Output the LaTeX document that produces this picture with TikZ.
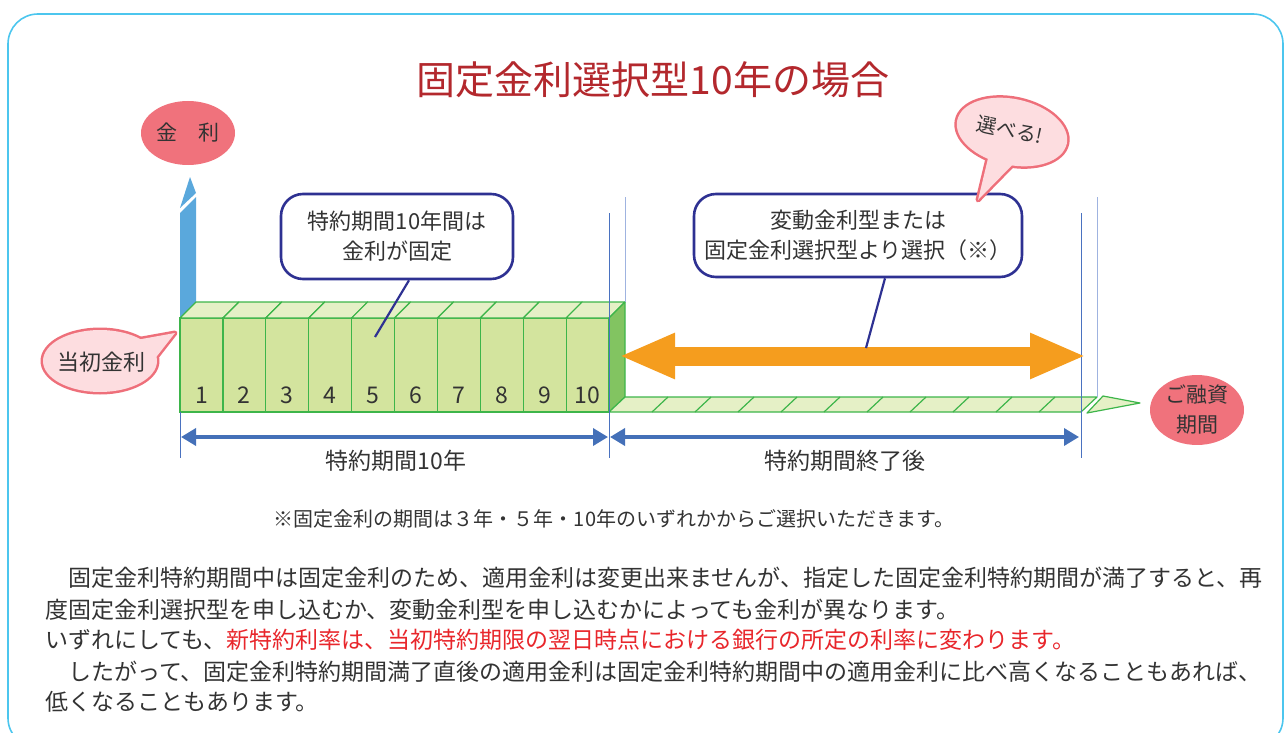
\documentclass[tikz,border=0pt]{standalone}
\usepackage{fontspec}
\setmainfont{Noto Sans CJK JP}
\usepackage{tikz}
\usetikzlibrary{arrows.meta, calc, shapes.geometric}

\definecolor{framecol}{HTML}{4CC6EE}
\definecolor{titlecol}{HTML}{B3282D}
\definecolor{salmon}{HTML}{F0727C}
\definecolor{pinkfill}{HTML}{FDDDE0}
\definecolor{pinkline}{HTML}{EE6F7A}
\definecolor{axisblue}{HTML}{5AA8DC}
\definecolor{greenfront}{HTML}{D3E49E}
\definecolor{greentop}{HTML}{E5F0C6}
\definecolor{greenside}{HTML}{82C461}
\definecolor{greenedge}{HTML}{3DB54A}
\definecolor{navy}{HTML}{2E3192}
\definecolor{dimblue}{HTML}{4470B8}
\definecolor{guideblue}{HTML}{4A72C0}
\definecolor{guidelight}{HTML}{9FB3E0}
\definecolor{orangecol}{HTML}{F59D1E}
\definecolor{txtgray}{HTML}{333333}
\definecolor{redtext}{HTML}{E8262B}

\begin{document}
\begin{tikzpicture}[x=1pt, y=-1pt,
  every node/.append style={text=txtgray, inner sep=0pt},
  title/.style={text=titlecol, font=\fontsize{39}{42}\selectfont},
  redoval/.style={ellipse, fill=salmon, font=\fontsize{21}{30}\selectfont, align=center},
  blockfront/.style={fill=greenfront, draw=greenedge, line width=1.2pt},
  blocktop/.style={fill=greentop, draw=greenedge, line width=1.2pt, line join=round},
  numtext/.style={font=\fontsize{23}{24}\selectfont},
  guide/.style={draw=guideblue, line width=0.9pt},
  guidelt/.style={draw=guidelight, line width=0.9pt},
  dimarrow/.style={draw=dimblue, line width=3.5pt, {Triangle[length=15pt,width=17pt]}-{Triangle[length=15pt,width=17pt]}},
  bigarrow/.style={draw=orangecol, line width=19pt, {Triangle[length=56pt,width=42pt]}-{Triangle[length=56pt,width=42pt]}},
  callout/.style={draw=navy, line width=2.6pt, rounded corners=22pt, fill=white, align=center, font=\fontsize{22}{30}\selectfont},
  navyline/.style={draw=navy, line width=2.2pt},
  bubbleline/.style={draw=pinkline, line width=5pt, line join=round},
  bubblefill/.style={fill=pinkfill},
  bubbletext/.style={font=\fontsize{22}{24}\selectfont},
  label/.style={font=\fontsize{23}{24}\selectfont},
  para/.style={anchor=base west, font=\fontsize{23}{30}\selectfont}]
\useasboundingbox (0,0) rectangle (1285,733);

% frame and title
\draw[framecol, line width=1.6pt, rounded corners=30pt] (8,14) rectangle (1283,748);
\node[title] (title) at (653,80) {固定金利選択型10年の場合};

% axis
\node[redoval, minimum width=94pt, minimum height=64pt] (kinri) at (188,133) {金　利};
\fill[axisblue] (180,318) -- (180,213) -- (196,197) -- (196,318) -- cycle;
\fill[axisblue] (180,208) -- (190,177) -- (196,193) -- cycle;

% ten blocks
\foreach \i in {1,...,10}{
  \pgfmathsetmacro\xa{180+(\i-1)*42.9}
  \pgfmathsetmacro\xb{\xa+42.9}
  \filldraw[blockfront] (\xa,318) rectangle (\xb,412);
  \filldraw[blocktop] (\xa,318) -- (\xa+16,302) -- (\xb+16,302) -- (\xb,318) -- cycle;
  \node[numtext] (n\i) at (\xa+21.45,395) {\i};
}
\filldraw[blocktop, fill=greenside] (609,318) -- (625,302) -- (625,397) -- (609,412) -- cycle;

% thin strip after the period
\filldraw[blocktop] (609,412) -- (625,397) -- (1097,397) -- (1081,412) -- cycle;
\foreach \k in {1,...,10} \draw[greenedge, line width=1.2pt] (609+43*\k,412) -- (625+43*\k,397);
\filldraw[blocktop] (1087,413) -- (1103,396) -- (1140,403) -- cycle;

% guide lines
\draw[guide] (180,412) -- (180,458);
\draw[guide] (609,213) -- (609,458);
\draw[guidelt] (625,197) -- (625,302);
\draw[guide] (1081,213) -- (1081,458);
\draw[guidelt] (1097,197) -- (1097,397);

% orange arrow
\coordinate (oa) at (619,356);
\coordinate (ob) at (1086,356);
\draw[bigarrow] (oa) -- (ob);

% periods
\coordinate (d0) at (181,437);
\coordinate (d1) at (608,437);
\coordinate (d2) at (610,437);
\coordinate (d3) at (1079,437);
\draw[dimarrow] (d0) -- (d1);
\draw[dimarrow] (d2) -- (d3);
\node[label] (tokuyaku) at (396,461) {特約期間10年};
\node[label] (shuryo) at (845,461) {特約期間終了後};

% callouts
\coordinate (p1) at (375,337);
\coordinate (p2) at (866,348);
\node[callout, minimum width=232pt, minimum height=85pt] (box1) at (397,236.5) {特約期間10年間は\\金利が固定};
\node[callout, minimum width=328pt, minimum height=83pt] (box2) at (858,235.5) {変動金利型または\\固定金利選択型より選択（※）};
\draw[navyline] ($(box1.south)+(12,0)$) -- (p1);
\draw[navyline] ($(box2.south)+(27,0)$) -- (p2);

% bubbles
\draw[bubbleline] (100,361) ellipse [x radius=57, y radius=31];
\draw[bubbleline] (125,342) -- (175,333) -- (150,365) -- cycle;
\fill[bubblefill] (100,361) ellipse [x radius=57, y radius=31];
\fill[bubblefill] (125,342) -- (175,333) -- (150,365) -- cycle;
\node[bubbletext] (tosho) at (101,362) {当初金利};

\draw[bubbleline, rotate around={-12:(1012,132)}] (1012,132) ellipse [x radius=56, y radius=33];
\draw[bubbleline] (990,150) -- (978,200) -- (1022,155) -- cycle;
\fill[bubblefill, rotate around={-12:(1012,132)}] (1012,132) ellipse [x radius=56, y radius=33];
\fill[bubblefill] (990,150) -- (978,200) -- (1022,155) -- cycle;
\node[bubbletext, font=\fontsize{20}{24}\selectfont, rotate=-12] (eraberu) at (1010,130) {選べる!};

\node[redoval, minimum width=94pt, minimum height=64pt] (yushi) at (1197,410) {ご融資\\期間};

% notes
\node[font=\fontsize{20}{24}\selectfont] (note) at (614,519) {※固定金利の期間は３年・５年・10年のいずれかからご選択いただきます。};
\node[para] (l1) at (45,586) {　固定金利特約期間中は固定金利のため、適用金利は変更出来ませんが、指定した固定金利特約期間が満了すると、再};
\node[para] (l2) at (45,618) {度固定金利選択型を申し込むか、変動金利型を申し込むかによっても金利が異なります。};
\node[para] (l3) at (45,648) {いずれにしても、{\color{redtext}新特約利率は、当初特約期限の翌日時点における銀行の所定の利率に変わります。}};
\node[para] (l4) at (45,680) {　したがって、固定金利特約期間満了直後の適用金利は固定金利特約期間中の適用金利に比べ高くなることもあれば、};
\node[para] (l5) at (45,710) {低くなることもあります。};
\end{tikzpicture}
\end{document}
